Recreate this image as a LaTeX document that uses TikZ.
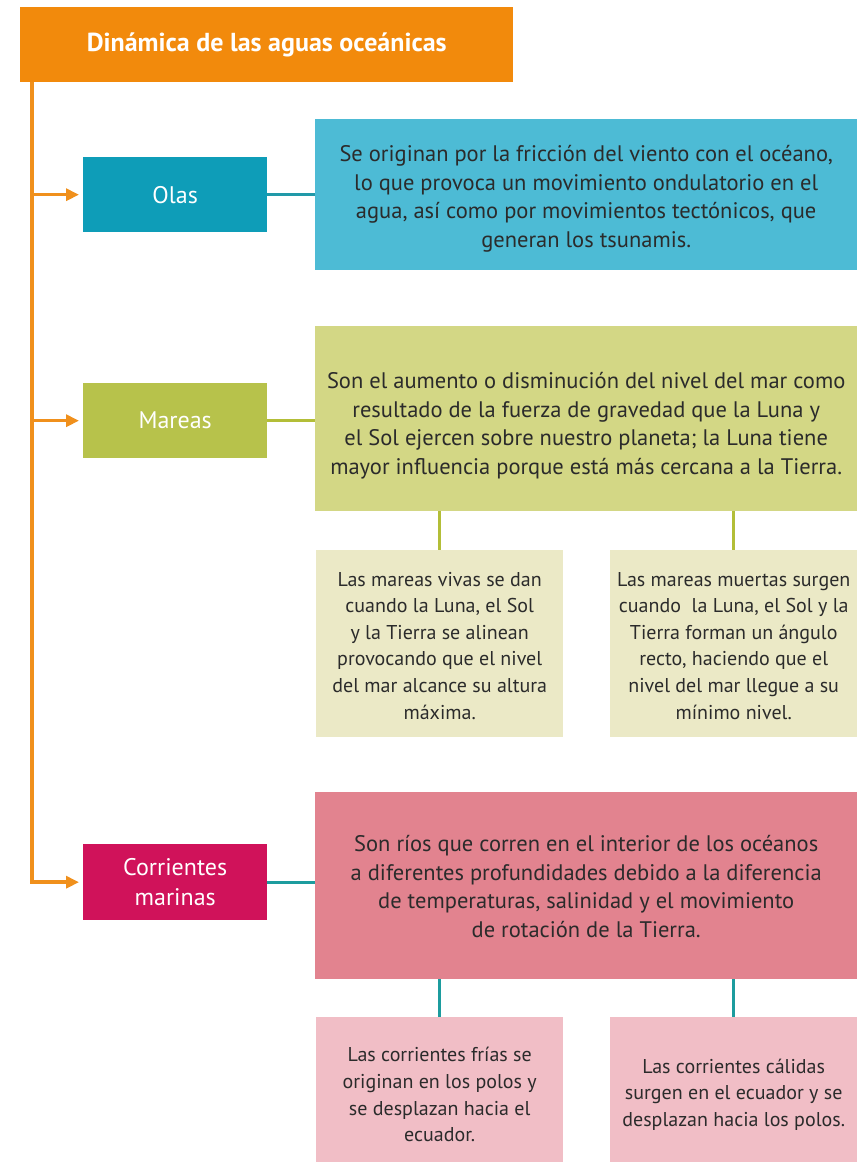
\documentclass[tikz,border=0pt]{standalone}
\usepackage{fontspec}
\setmainfont{PT Sans}
\usetikzlibrary{arrows.meta}
\definecolor{titleor}{HTML}{F28A0C}
\definecolor{arrowor}{HTML}{F0901C}
\definecolor{olasbox}{HTML}{0E9DB8}
\definecolor{olasdesc}{HTML}{4DBBD5}
\definecolor{olasline}{HTML}{2199A8}
\definecolor{marbox}{HTML}{B7C24B}
\definecolor{mardesc}{HTML}{D3D785}
\definecolor{marsub}{HTML}{EBE9C6}
\definecolor{marline}{HTML}{B3BE38}
\definecolor{corbox}{HTML}{D0125A}
\definecolor{cordesc}{HTML}{E2838F}
\definecolor{corsub}{HTML}{F1BEC6}
\definecolor{corline}{HTML}{1C9C9E}
\definecolor{txt}{HTML}{2B2B2B}
\tikzset{
  box/.style={rectangle, inner sep=0pt, align=center, anchor=north west},
  labelbox/.style={box, minimum width=184pt, minimum height=75pt, text=white,
    font=\fontsize{24}{30}\selectfont},
  descbox/.style={box, minimum width=542pt},
  desctext/.style={align=center, inner sep=0pt, text=txt,
    font=\fontsize{22.5}{28.5}\selectfont},
  subbox/.style={box, minimum width=247pt},
  subtext/.style={align=center, inner sep=0pt, text=txt,
    font=\fontsize{20}{26.6}\selectfont},
  branch/.style={draw=arrowor, line width=3.5pt, -{Triangle[length=13pt,width=12pt]}, shorten >=4pt},
  link/.style={line width=3pt}
}
\begin{document}
\begin{tikzpicture}[x=1pt,y=-1pt]
\useasboundingbox (0,0) rectangle (859,1162);
% title
\node[box, fill=titleor, minimum width=493pt, minimum height=75pt, text=white,
  font=\fontsize{26}{30}\selectfont\bfseries] (title) at (20,7) {Dinámica de las aguas oceánicas};
\coordinate (t0) at (32,82);
% label boxes
\node[labelbox, fill=olasbox] (olas) at (83,157) {Olas};
\node[labelbox, fill=marbox] (mareas) at (83,383) {Mareas};
\node[labelbox, fill=corbox, minimum height=76pt] (corr) at (83,844) {Corrientes\\marinas};
% description boxes
\node[descbox, fill=olasdesc, minimum height=151pt] (odesc) at (315,119) {};
\node[desctext] (odesct) at ([yshift=-4pt]odesc.center)
  {Se originan por la fricción del viento con el océano,\\
   lo que provoca un movimiento ondulatorio en el\\
   agua, así como por movimientos tectónicos, que\\
   generan los tsunamis.};
\node[descbox, fill=mardesc, minimum height=185pt] (mdesc) at (315,326) {};
\node[desctext] (mdesct) at ([yshift=-7pt]mdesc.center)
  {Son el aumento o disminución del nivel del mar como\\
   resultado de la fuerza de gravedad que la Luna y\\
   el Sol ejercen sobre nuestro planeta; la Luna tiene\\
   mayor influencia porque está más cercana a la Tierra.};
\node[descbox, fill=cordesc, minimum height=187pt] (cdesc) at (315,792) {};
\node[desctext] (cdesct) at ([yshift=-1pt]cdesc.center)
  {Son ríos que corren en el interior de los océanos\\
   a diferentes profundidades debido a la diferencia\\
   de temperaturas, salinidad y el movimiento\\
   de rotación de la Tierra.};
% sub boxes
\node[subbox, fill=marsub, minimum height=187pt] (ms1) at (316,550) {};
\node[subtext] (ms1t) at ([yshift=-2pt]ms1.center)
  {Las mareas vivas se dan\\ cuando la Luna, el Sol\\ y la Tierra se alinean\\
   provocando que el nivel\\ del mar alcance su altura\\ máxima.};
\node[subbox, fill=marsub, minimum height=187pt] (ms2) at (610,550) {};
\node[subtext] (ms2t) at ([yshift=-2pt]ms2.center)
  {Las mareas muertas surgen\\ cuando\ \ la Luna, el Sol y la\\ Tierra forman un ángulo\\
   recto, haciendo que el\\ nivel del mar llegue a su\\ mínimo nivel.};
\node[subbox, fill=corsub, minimum height=145pt] (cs1) at (316,1017) {};
\node[subtext] (cs1t) at ([yshift=-5pt]cs1.center)
  {Las corrientes frías se\\ originan en los polos y\\ se desplazan hacia el\\ ecuador.};
\node[subbox, fill=corsub, minimum height=145pt] (cs2) at (610,1017) {};
\node[subtext] (cs2t) at ([yshift=-5pt]cs2.center)
  {Las corrientes cálidas\\ surgen en el ecuador y se\\ desplazan hacia los polos.};
% orange trunk and branches
\draw[branch] (t0) |- (corr.west);
\draw[branch] (t0 |- olas.west) -- (olas.west);
\draw[branch] (t0 |- mareas.west) -- (mareas.west);
% connectors
\draw[link, draw=olasline] (olas.east) -- (olas.east -| odesc.west);
\draw[link, draw=marline] (mareas.east) -- (mareas.east -| mdesc.west);
\draw[link, draw=corline] (corr.east) -- (corr.east -| cdesc.west);
\draw[link, draw=marline] (ms1.north |- mdesc.south) -- (ms1.north);
\draw[link, draw=marline] (ms2.north |- mdesc.south) -- (ms2.north);
\draw[link, draw=corline] (cs1.north |- cdesc.south) -- (cs1.north);
\draw[link, draw=corline] (cs2.north |- cdesc.south) -- (cs2.north);
\end{tikzpicture}
\end{document}
